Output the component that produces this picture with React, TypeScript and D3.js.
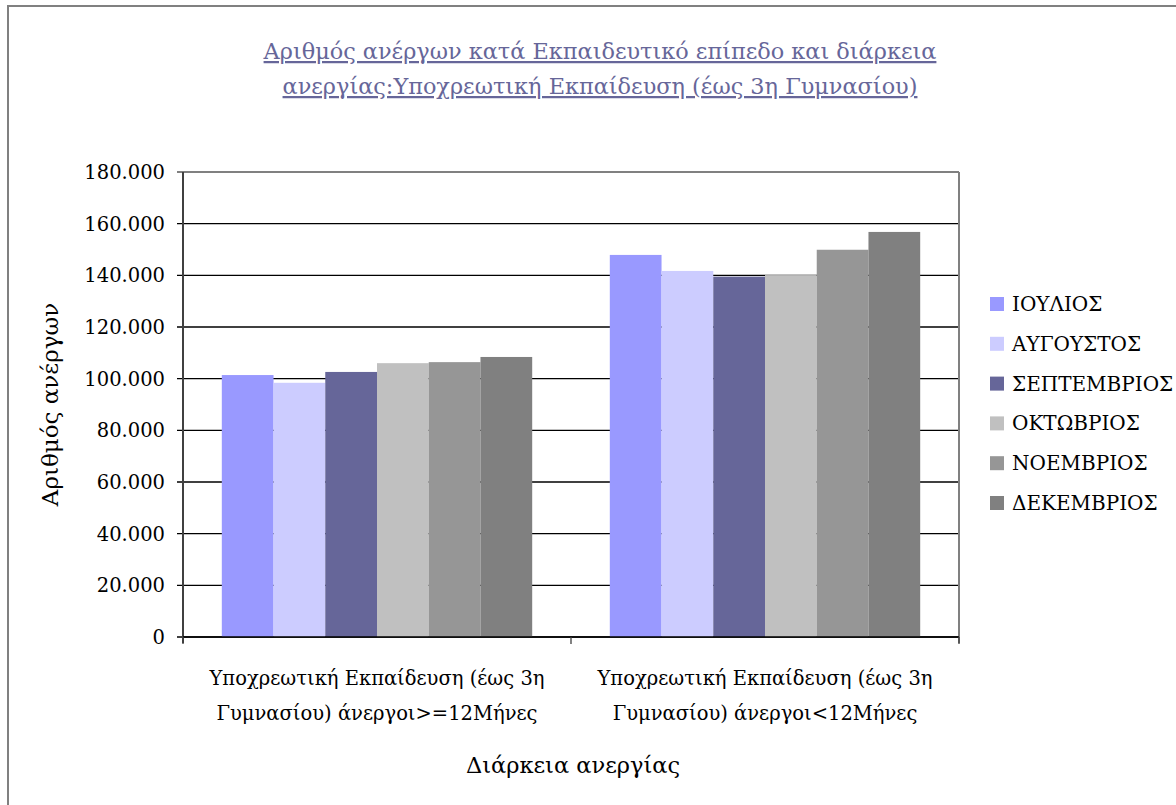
import React from "react";
import * as d3 from "d3";

const categories = [
  ["Υποχρεωτική Εκπαίδευση (έως 3η", "Γυμνασίου) άνεργοι>=12Μήνες"],
  ["Υποχρεωτική Εκπαίδευση (έως 3η", "Γυμνασίου) άνεργοι<12Μήνες"],
];
const months = ["ΙΟΥΛΙΟΣ", "ΑΥΓΟΥΣΤΟΣ", "ΣΕΠΤΕΜΒΡΙΟΣ", "ΟΚΤΩΒΡΙΟΣ", "ΝΟΕΜΒΡΙΟΣ", "ΔΕΚΕΜΒΡΙΟΣ"];
const colors = ["#9999FF", "#CCCCFF", "#666699", "#C0C0C0", "#969696", "#808080"];
const valuesLong = [101400, 98400, 102600, 106000, 106400, 108400];
const valuesShort = [147900, 141700, 139500, 140100, 149900, 156800];
const yTicks = [0, 20000, 40000, 60000, 80000, 100000, 120000, 140000, 160000, 180000];
const titleLines = [
  "Αριθμός ανέργων κατά Εκπαιδευτικό επίπεδο και διάρκεια",
  "ανεργίας:Υποχρεωτική Εκπαίδευση (έως 3η Γυμνασίου)",
];
const yTitle = "Αριθμός ανέργων";
const xTitle = "Διάρκεια ανεργίας";

const FONT = "'DejaVu Serif', serif";

export default function App() {
  const W = 1176, H = 805;
  const left = 183, right = 959, top = 172, bottom = 637;
  const data = [valuesLong, valuesShort];
  const x0 = d3.scaleBand<number>().domain([0, 1]).range([left, right]).paddingInner(0).paddingOuter(0);
  const y = d3.scaleLinear().domain([0, 180000]).range([bottom, top]);
  const bw = x0.bandwidth();
  const barW = bw / 7.5;
  const x1 = d3.scaleBand<number>().domain(d3.range(6)).range([0.75 * barW, bw - 0.75 * barW]).padding(0);
  const fmt = (v: number) => (v === 0 ? "0" : d3.format(",")(v).replace(/,/g, "."));

  return (
    <svg width={W} height={H} style={{ position: "absolute", left: 0, top: 0, display: "block", background: "#fff" }}>
      <rect x={8} y={6} width={W + 20} height={H + 20} fill="#fff" stroke="#808080" strokeWidth={2} />
      {titleLines.map((t, i) => (
        <text key={i} x={600} y={59 + i * 35} textAnchor="middle" fontFamily={FONT} fontSize={22.4} fill="#666699" textDecoration="underline">
          {t}
        </text>
      ))}
      {yTicks.map((t) => (
        <g key={t}>
          <line x1={left - 6} x2={right} y1={y(t)} y2={y(t)} stroke={t === 180000 ? "#808080" : "#000"} strokeWidth={t === 180000 ? 2 : 1.3} />
          <text x={left - 18} y={y(t) + 7} textAnchor="end" fontFamily={FONT} fontSize={19.5} fill="#000">
            {fmt(t)}
          </text>
        </g>
      ))}
      {data.map((vals, ci) =>
        vals.map((v, si) => (
          <rect key={`${ci}-${si}`} x={(x0(ci) as number) + (x1(si) as number)} y={y(v)} width={x1.bandwidth()} height={bottom - y(v)} fill={colors[si]} />
        ))
      )}
      <line x1={right} x2={right} y1={top} y2={bottom + 6} stroke="#808080" strokeWidth={2} />
      <line x1={left} x2={left} y1={top} y2={bottom + 6} stroke="#404040" strokeWidth={2} />
      <line x1={left} x2={right} y1={bottom} y2={bottom} stroke="#000" strokeWidth={1.5} />
      {[0, 1, 2].map((i) => (
        <line key={i} x1={left + i * bw} x2={left + i * bw} y1={bottom} y2={bottom + 7} stroke="#404040" strokeWidth={1.3} />
      ))}
      {categories.map((lines, ci) =>
        lines.map((l, li) => (
          <text key={`${ci}-${li}`} x={(x0(ci) as number) + bw / 2} y={685 + li * 35} textAnchor="middle" fontFamily={FONT} fontSize={19.5} fill="#000">
            {l}
          </text>
        ))
      )}
      <text x={(left + right) / 2 + 2} y={773} textAnchor="middle" fontFamily={FONT} fontSize={22.5} fill="#000">
        {xTitle}
      </text>
      <text transform={`translate(58, ${(top + bottom) / 2}) rotate(-90)`} textAnchor="middle" fontFamily={FONT} fontSize={23} fill="#000">
        {yTitle}
      </text>
      {months.map((m, i) => (
        <g key={m} transform={`translate(990, ${297 + i * 39.8})`}>
          <rect x={0} y={0} width={14} height={14} fill={colors[i]} />
          <text x={22} y={14} fontFamily={FONT} fontSize={20} fill="#000">
            {m}
          </text>
        </g>
      ))}
    </svg>
  );
}
